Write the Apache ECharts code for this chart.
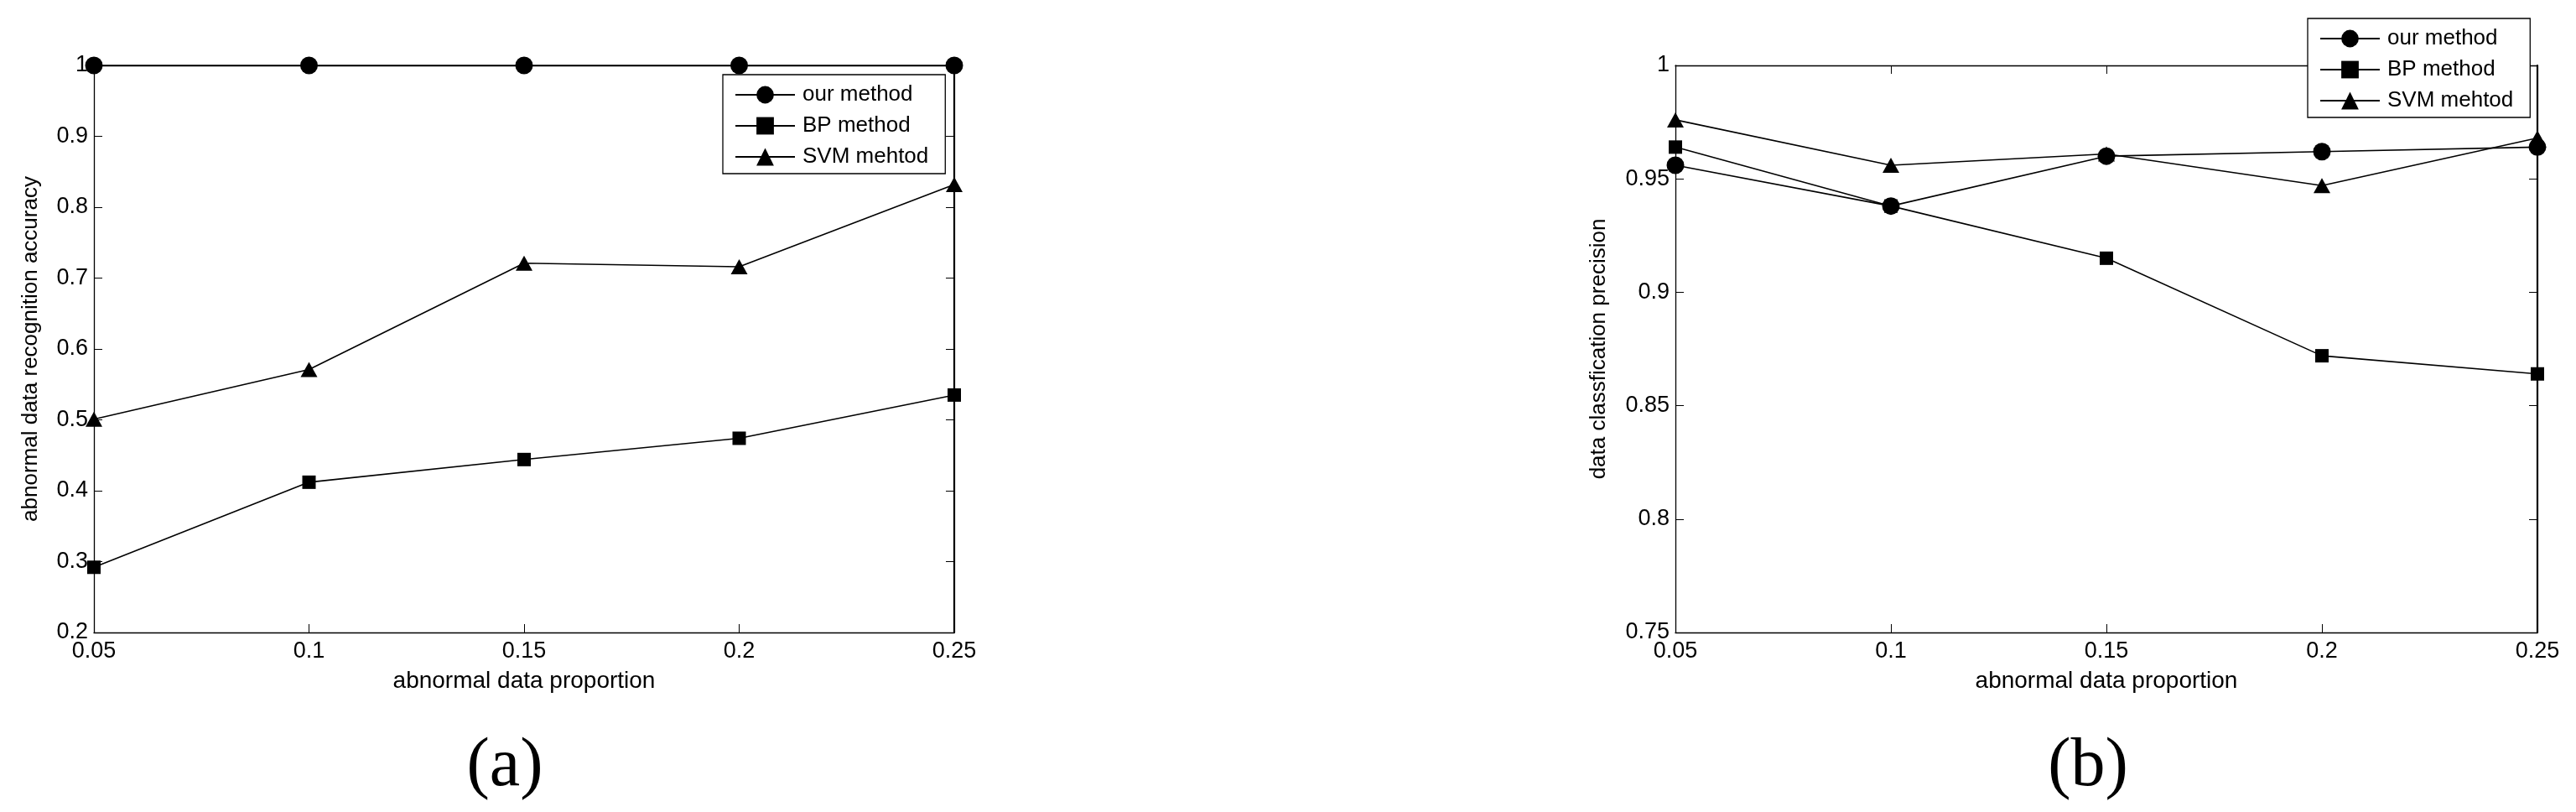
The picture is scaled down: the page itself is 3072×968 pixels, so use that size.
<!DOCTYPE html>
<html>
<head>
<meta charset="utf-8">
<title>abnormal data proportion</title>
<script src="https://cdn.jsdelivr.net/npm/echarts@6.0.0/dist/echarts.min.js"></script>
<style>
html,body{margin:0;padding:0;background:#fff;}
#main{width:3072px;height:968px;}
</style>
</head>
<body>
<div id="main"></div>
<script>
// x axis : abnormal data proportion
var proportion=[0.05,0.1,0.15,0.2,0.25];
var seriesNames=['our method','BP method','SVM mehtod'];

// (a) abnormal data recognition accuracy
var accOur=[1,1,1,1,1];
var accBP=[0.292,0.412,0.444,0.474,0.535];
var accSVM=[0.501,0.571,0.721,0.716,0.832];

// (b) data classfication precision
var preOur=[0.956,0.938,0.960,0.962,0.964];
var preBP=[0.964,0.938,0.915,0.872,0.864];
var preSVM=[0.976,0.956,0.961,0.947,0.968];

// tick settings
var xTicks={min:0.05,max:0.25,interval:0.05};
var accTicks={min:0.2,max:1,interval:0.1};
var preTicks={min:0.75,max:1,interval:0.05};
var panelLabels=['(a)','(b)'];

var font='Liberation Sans, Arial, sans-serif';
var symbols=['circle','rect','triangle'];
var symbolSizes=[21,16,[20,18]];

function pairs(xs,ys){
	var out=[];
	for(var i=0;i<xs.length;i++){
		out.push([xs[i],ys[i]]);
	}
	return out;
}

//---------------------------------axes----------------------------
function xAxis(gi,mirror){
	return {
		type:'value',gridIndex:gi,position:mirror?'top':'bottom',
		min:xTicks.min,max:xTicks.max,interval:xTicks.interval,
		name:mirror?'':'abnormal data proportion',nameLocation:'middle',nameGap:44,
		nameTextStyle:{fontFamily:font,fontSize:28,color:'#000'},
		axisLine:{show:true,onZero:false,lineStyle:{color:'#000',width:1.3}},
		axisTick:{show:true,inside:true,length:10,lineStyle:{color:'#000',width:1}},
		axisLabel:{show:!mirror,fontFamily:font,fontSize:27,color:'#000',margin:9},
		splitLine:{show:false}
	};
}

function yAxis(gi,ticks,title,gap,mirror){
	return {
		type:'value',gridIndex:gi,position:mirror?'right':'left',
		min:ticks.min,max:ticks.max,interval:ticks.interval,
		name:mirror?'':title,nameLocation:'middle',nameGap:gap,nameRotate:90,
		nameTextStyle:{fontFamily:font,fontSize:26,color:'#000'},
		axisLine:{show:true,onZero:false,lineStyle:{color:'#000',width:mirror?2.2:1.3}},
		axisTick:{show:true,inside:true,length:10,lineStyle:{color:'#000',width:1}},
		axisLabel:{show:!mirror,fontFamily:font,fontSize:27,color:'#000',margin:7},
		splitLine:{show:false}
	};
}

function lines(gi,lists){
	var out=[];
	for(var i=0;i<lists.length;i++){
		out.push({
			type:'line',name:seriesNames[i],
			xAxisIndex:gi*2,yAxisIndex:gi*2,
			data:pairs(proportion,lists[i]),
			symbol:symbols[i],symbolSize:symbolSizes[i],
			showAllSymbol:true,clip:false,
			lineStyle:{color:'#000',width:1.6},
			itemStyle:{color:'#000'},
			emphasis:{disabled:true},
			animation:false
		});
	}
	return out;
}

function legend(left,top){
	return {
		orient:'vertical',left:left,top:top,
		data:seriesNames,
		backgroundColor:'#fff',borderColor:'#000',borderWidth:1.3,borderRadius:0,
		padding:[11,20,7,14],
		itemWidth:71,itemHeight:26,itemGap:11,
		selectedMode:false,
		lineStyle:{width:2},
		textStyle:{fontFamily:font,fontSize:26,color:'#000',padding:[0,0,0,4]}
	};
}

function panelText(txt,x){
	return {
		type:'text',x:x,y:914,
		style:{text:txt,fill:'#000',font:'82px "Liberation Serif", "Times New Roman", serif',
			textAlign:'center',textVerticalAlign:'middle'}
	};
}

var myChart=echarts.init(document.getElementById('main'),null,{renderer:'canvas'});

var option={
	backgroundColor:'#fff',
	animation:false,
	grid:[
		{left:112,top:78,width:1026,height:676},
		{left:1998,top:78,width:1028,height:676}
	],
	xAxis:[xAxis(0,false),xAxis(0,true),xAxis(1,false),xAxis(1,true)],
	yAxis:[
		yAxis(0,accTicks,'abnormal data recognition accuracy',62,false),
		yAxis(0,accTicks,'',0,true),
		yAxis(1,preTicks,'data classfication precision',78,false),
		yAxis(1,preTicks,'',0,true)
	],
	legend:[legend(862,89),legend(2752,22)],
	series:lines(0,[accOur,accBP,accSVM]).concat(lines(1,[preOur,preBP,preSVM])),
	graphic:[panelText(panelLabels[0],602),panelText(panelLabels[1],2490)]
};

myChart.setOption(option);
</script>
</body>
</html>
